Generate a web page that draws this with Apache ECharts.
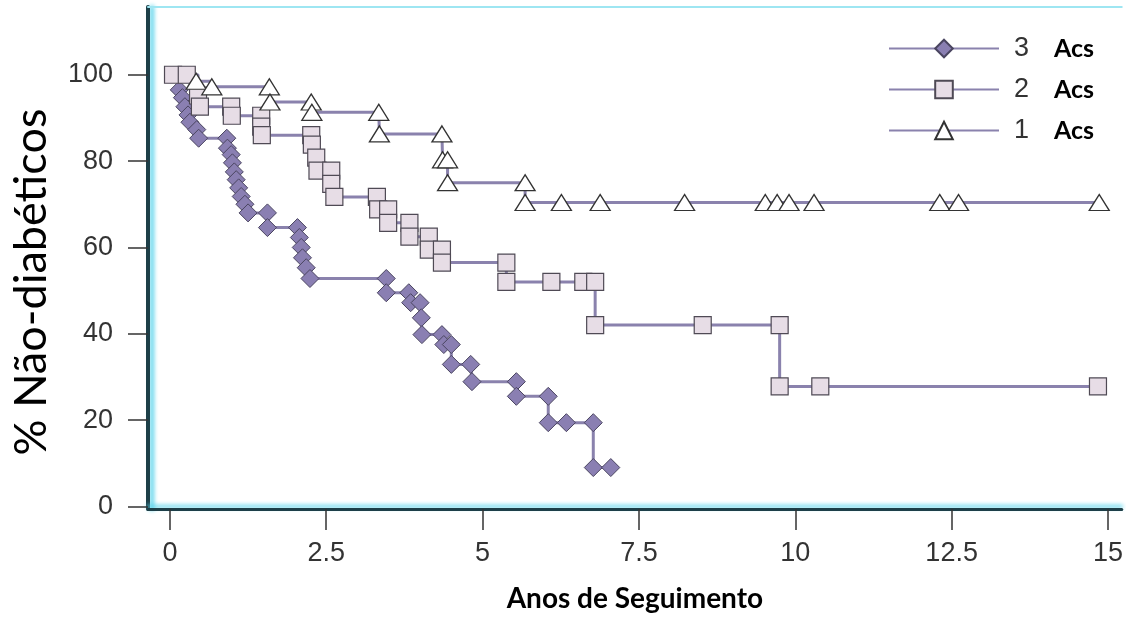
<!DOCTYPE html>
<html>
<head>
<meta charset="utf-8">
<script src="https://cdn.jsdelivr.net/npm/echarts@6/dist/echarts.min.js"></script>
<style>
html,body{margin:0;padding:0;background:#fff;}
#c{width:1126px;height:620px;}
</style>
</head>
<body>
<div id="c"></div>
<script>
// ---- data ----
const seriesNames = ['3 Acs', '2 Acs', '1 Acs'];
const xTickValues = [0, 2.5, 5, 7.5, 10, 12.5, 15];
const yTickValues = [0, 20, 40, 60, 80, 100];

// 3 Acs (diamonds)
const acs3Time = [0, 0.15, 0.2, 0.24, 0.29, 0.32, 0.43, 0.46, 0.91, 0.92, 0.98, 1.0, 1.03, 1.06, 1.1, 1.14, 1.2, 1.25, 1.56, 1.56, 2.04, 2.07, 2.1, 2.12, 2.18, 2.24, 3.46, 3.46, 3.82, 3.85, 4.0, 4.02, 4.03, 4.35, 4.38, 4.5, 4.5, 4.81, 4.83, 5.54, 5.54, 6.05, 6.05, 6.34, 6.77, 6.77, 7.05];
const acs3Value = [100, 96.5, 94.7, 92.6, 90.7, 89, 87.3, 85.3, 85.3, 83, 81.5, 79.6, 77.5, 75.7, 73.8, 71.8, 70, 68, 68, 64.6, 64.6, 62.3, 60, 57.6, 55.3, 52.8, 52.8, 49.5, 49.5, 47.2, 47.2, 43.7, 39.8, 39.8, 37.5, 37.5, 32.9, 32.9, 28.9, 28.9, 25.5, 25.5, 19.4, 19.4, 19.4, 9, 9];

// 2 Acs (squares)
const acs2Time = [0.05, 0.27, 0.45, 0.48, 0.98, 0.99, 1.46, 1.46, 1.47, 2.26, 2.27, 2.34, 2.36, 2.58, 2.58, 2.63, 3.31, 3.33, 3.49, 3.49, 3.83, 3.83, 4.14, 4.14, 4.35, 4.35, 5.38, 5.38, 6.1, 6.61, 6.8, 6.8, 8.52, 9.75, 9.75, 10.4, 14.84];
const acs2Value = [100, 100, 95.2, 92.6, 92.6, 90.5, 90.5, 88, 86, 86, 83.8, 80.8, 77.8, 77.8, 74.7, 71.7, 71.7, 68.8, 68.8, 65.7, 65.7, 62.5, 62.5, 59.5, 59.5, 56.5, 56.5, 52, 52, 52, 52, 42, 42, 42, 27.8, 27.8, 27.8];

// 1 Acs (triangles)
const acs1Time = [0, 0.42, 0.67, 1.59, 1.6, 2.26, 2.27, 3.34, 3.35, 4.35, 4.36, 4.44, 4.44, 5.68, 5.68, 6.26, 6.88, 8.23, 9.52, 9.71, 9.9, 10.3, 12.31, 12.61, 14.86];
const acs1Value = [100, 98.5, 97.2, 97.2, 93.7, 93.7, 91.3, 91.3, 86.3, 86.3, 80.3, 80.3, 75, 75, 70.4, 70.4, 70.4, 70.4, 70.4, 70.4, 70.4, 70.4, 70.4, 70.4, 70.4];

// ---- chart ----
function build(times, values, hideFirst) {
  return times.map((t, i) => {
    const item = { value: [t, values[i]] };
    if (hideFirst && i === 0) item.symbol = 'none';
    return item;
  });
}

const lineColor = '#8a82ad';
const chart = echarts.init(document.getElementById('c'), null, { renderer: 'canvas' });

const numFont = 'Liberation Sans, Arial, sans-serif';
const titleFont = 'Lato, Open Sans, sans-serif';

chart.setOption({
  backgroundColor: '#ffffff',
  animation: false,
  grid: { left: 148, top: 7, right: 0, bottom: 111, containLabel: false },
  legend: {
    orient: 'vertical',
    left: 883,
    top: 30,
    itemWidth: 110,
    itemHeight: 22,
    itemGap: 14,
    data: seriesNames,
    formatter: function (name) {
      const parts = name.split(' ');
      return '{n|' + parts[0] + '}{a|' + parts[1] + '}';
    },
    textStyle: {
      rich: {
        n: { fontFamily: numFont, fontSize: 27, color: '#333', padding: [0, 0, 0, 10], width: 40 },
        a: { fontFamily: titleFont, fontSize: 25, fontWeight: 'bold', color: '#000' }
      }
    }
  },
  xAxis: [{
    type: 'value',
    min: -0.35,
    max: 15.22,
    position: 'bottom',
    splitLine: { show: false },
    axisLine: { show: true, onZero: false, lineStyle: { color: '#1d3f48', width: 3, shadowColor: '#56d3ea', shadowBlur: 4, shadowOffsetY: -3 } },
    axisTick: { show: true, customValues: xTickValues, length: 21, lineStyle: { color: '#333', width: 1.5 } },
    axisLabel: { customValues: xTickValues, margin: 31, fontFamily: numFont, fontSize: 27, color: '#333' },
    name: 'Anos de Seguimento',
    nameLocation: 'middle',
    nameGap: 76,
    nameTextStyle: { fontFamily: titleFont, fontSize: 28, fontWeight: 'bold', color: '#000' }
  }, {
    type: 'value',
    min: -0.35,
    max: 15.22,
    position: 'top',
    splitLine: { show: false },
    axisLine: { show: true, onZero: false, lineStyle: { color: '#9ee6f2', width: 2 } },
    axisTick: { show: false },
    axisLabel: { show: false }
  }],
  yAxis: {
    type: 'value',
    min: -0.6,
    max: 115.7,
    splitLine: { show: false },
    axisLine: { show: true, onZero: false, lineStyle: { color: '#1d3f48', width: 4, shadowColor: '#56d3ea', shadowBlur: 4, shadowOffsetX: 4 } },
    axisTick: { show: true, customValues: yTickValues, length: 20, lineStyle: { color: '#333', width: 1.5 } },
    axisLabel: { customValues: yTickValues, margin: 35, fontFamily: numFont, fontSize: 27, color: '#333' },
    name: '% Não-diabéticos',
    nameLocation: 'middle',
    nameRotate: 90,
    nameGap: 94,
    nameTextStyle: { fontFamily: titleFont, fontSize: 45, color: '#000', padding: [0, 48, 0, 0] }
  },
  series: [{
    name: seriesNames[0],
    type: 'line',
    step: 'end',
    data: build(acs3Time, acs3Value, true),
    symbol: 'diamond',
    symbolSize: 18,
    showAllSymbol: true,
    lineStyle: { color: lineColor, width: 3 },
    itemStyle: { color: '#8a7fb2', borderColor: '#4a4560', borderWidth: 1 }
  }, {
    name: seriesNames[1],
    type: 'line',
    step: 'end',
    data: build(acs2Time, acs2Value, false),
    symbol: 'rect',
    symbolSize: 17,
    showAllSymbol: true,
    lineStyle: { color: lineColor, width: 3 },
    itemStyle: { color: '#e7dde6', borderColor: '#4f4a55', borderWidth: 1.2 }
  }, {
    name: seriesNames[2],
    type: 'line',
    step: 'end',
    data: build(acs1Time, acs1Value, true),
    symbol: 'triangle',
    symbolSize: [20, 16],
    showAllSymbol: true,
    lineStyle: { color: lineColor, width: 3 },
    itemStyle: { color: '#ffffff', borderColor: '#333', borderWidth: 1.3 }
  }]
});
</script>
</body>
</html>
